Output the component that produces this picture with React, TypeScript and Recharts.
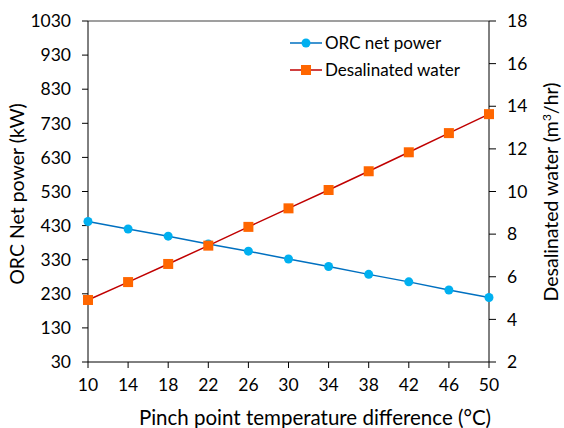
import {
  ComposedChart,
  Line,
  XAxis,
  YAxis,
  ReferenceLine,
} from "recharts";

const pinchDiff = [10, 14, 18, 22, 26, 30, 34, 38, 42, 46, 50];
const orcPower = [442, 420, 399, 376, 355, 332, 310, 287, 265, 241, 219];
const waterFlow = [4.91, 5.75, 6.6, 7.46, 8.34, 9.21, 10.07, 10.95, 11.84, 12.74, 13.63];

const powerTicks = [30, 130, 230, 330, 430, 530, 630, 730, 830, 930, 1030];
const waterTicks = [2, 4, 6, 8, 10, 12, 14, 16, 18];
const xTicks = [10, 14, 18, 22, 26, 30, 34, 38, 42, 46, 50];

const FONT = "Lato, 'Open Sans', sans-serif";
const BLUE_LINE = "#0070C0";
const BLUE_DOT = "#00B0F0";
const RED_LINE = "#C00000";
const ORANGE = "#FF6600";

const data = pinchDiff.map((x, i) => ({
  x,
  power: orcPower[i],
  water: waterFlow[i],
}));

const tickStyle = { fill: "#000", fontSize: 17.5, fontFamily: FONT };

const LeftTitle = () => (
  <text
    x={24}
    y={194}
    transform="rotate(-90 24 194)"
    textAnchor="middle"
    fontSize={19.5}
    fontFamily={FONT}
    fill="#000"
  >
    ORC Net power (kW)
  </text>
);

const RightTitle = () => (
  <text
    x={558}
    y={192}
    transform="rotate(-90 558 192)"
    textAnchor="middle"
    fontSize={19.5}
    fontFamily={FONT}
    fill="#000"
  >
    Desalinated water (m
    <tspan baselineShift="super" fontSize={12}>
      3
    </tspan>
    /hr)
  </text>
);

const BottomTitle = () => (
  <text
    x={315}
    y={425}
    textAnchor="middle"
    fontSize={20.5}
    fontFamily={FONT}
    fill="#000"
  >
    Pinch point temperature difference (°C)
  </text>
);

// legend drawn as an overlay so it doesn't eat into the plot area
const LegendBox = () => (
  <svg
    width={200}
    height={56}
    style={{ position: "absolute", left: 288, top: 31 }}
  >
    <line x1={2} y1={12} x2={34} y2={12} stroke={BLUE_LINE} strokeWidth={1.5} />
    <circle cx={18} cy={12} r={4.5} fill={BLUE_DOT} />
    <text x={37} y={18} fontSize={17} fontFamily={FONT} fill="#000">
      ORC net power
    </text>
    <line x1={2} y1={39} x2={34} y2={39} stroke={RED_LINE} strokeWidth={1.5} />
    <rect x={13} y={34} width={10} height={10} fill={ORANGE} />
    <text x={37} y={45} fontSize={17} fontFamily={FONT} fill="#000">
      Desalinated water
    </text>
  </svg>
);

export default function App() {
  return (
    <div style={{ position: "absolute", left: 0, top: 0, background: "#fff" }}>
      <ComposedChart
        width={564}
        height={428}
        data={data}
        margin={{ top: 21, right: 0, bottom: 0, left: 0 }}
      >
        <XAxis
          dataKey="x"
          type="number"
          domain={[10, 50]}
          ticks={xTicks}
          height={66}
          stroke="#000"
          tick={tickStyle}
          tickSize={6}
          tickMargin={11}
          padding={{ left: 0, right: 0 }}
          label={<BottomTitle />}
        />
        <YAxis
          yAxisId="left"
          type="number"
          domain={[30, 1030]}
          ticks={powerTicks}
          width={88}
          stroke="#000"
          tick={tickStyle}
          tickSize={6}
          tickMargin={11}
          interval={0}
          label={<LeftTitle />}
        />
        <YAxis
          yAxisId="right"
          orientation="right"
          type="number"
          domain={[2, 18]}
          ticks={waterTicks}
          width={75}
          stroke="#000"
          tick={{ ...tickStyle, textAnchor: "start" }}
          tickSize={7}
          tickMargin={11}
          interval={0}
          label={<RightTitle />}
        />
        <ReferenceLine yAxisId="left" y={1030} stroke="#7f7f7f" strokeWidth={1.5} />
        <Line
          yAxisId="left"
          dataKey="power"
          name="ORC net power"
          stroke={BLUE_LINE}
          strokeWidth={1.5}
          dot={{ r: 4.5, fill: BLUE_DOT, stroke: BLUE_DOT, strokeWidth: 0 }}
          isAnimationActive={false}
        />
        <Line
          yAxisId="right"
          dataKey="water"
          name="Desalinated water"
          stroke={RED_LINE}
          strokeWidth={1.5}
          dot={(p: any) => (
            <rect
              key={`sq-${p.index}`}
              x={p.cx - 5}
              y={p.cy - 5}
              width={10}
              height={10}
              fill={ORANGE}
            />
          )}
          isAnimationActive={false}
        />
      </ComposedChart>
      <LegendBox />
    </div>
  );
}
